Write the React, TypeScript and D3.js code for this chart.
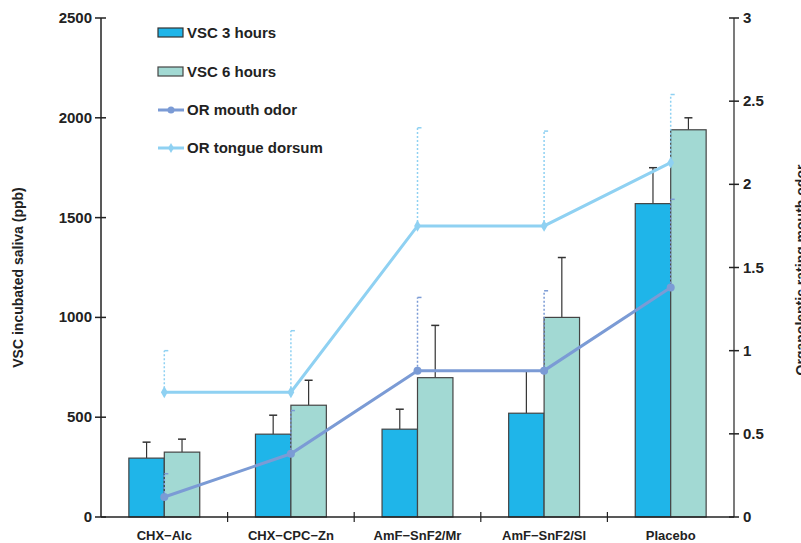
import React from "react";
import * as d3 from "d3";

const categories = ["CHX−Alc", "CHX−CPC−Zn", "AmF−SnF2/Mr", "AmF−SnF2/Sl", "Placebo"];
const vsc3 = [295, 415, 440, 520, 1570];
const vsc3Err = [375, 510, 540, 730, 1750];
const vsc6 = [325, 560, 698, 1000, 1940];
const vsc6Err = [390, 685, 960, 1300, 2000];
const orMouth = [0.12, 0.38, 0.88, 0.88, 1.38];
const orMouthErr = [0.26, 0.64, 1.32, 1.36, 1.91];
const orTongue = [0.75, 0.75, 1.75, 1.75, 2.13];
const orTongueErr = [1.0, 1.12, 2.34, 2.32, 2.54];
const leftTicks = [0, 500, 1000, 1500, 2000, 2500];
const rightTicks = [0, 0.5, 1, 1.5, 2, 2.5, 3];
const rightTickLabels = ["0", "0.5", "1", "1.5", "2", "2.5", "3"];

const C3 = "#1fb5e9";
const C6 = "#a2d9d3";
const CM = "#7b9bd5";
const CT = "#8fd1f2";
const FONT = "Liberation Sans, Arial, sans-serif";

export default function App() {
  const W = 801, H = 543;
  const x0 = 101, x1 = 734, yTop = 18, yBot = 517;
  const x = d3.scaleBand<string>().domain(categories).range([x0, x1]).padding(0);
  const yL = d3.scaleLinear().domain([0, 2500]).range([yBot, yTop]);
  const yR = d3.scaleLinear().domain([0, 3]).range([yBot, yTop]);
  const bw = x.bandwidth() * 0.28;
  const cx = (c: string) => (x(c) as number) + x.bandwidth() / 2;
  const lineM = d3.line<number>().x((_, i) => cx(categories[i])).y((d) => yR(d));

  const bars = (vals: number[], errs: number[], color: string, off: number) =>
    categories.map((c, i) => {
      const bx = cx(c) + off;
      const mid = bx + bw / 2;
      return (
        <g key={c + color}>
          <line x1={mid} x2={mid} y1={yL(vals[i])} y2={yL(errs[i])} stroke="#333" strokeWidth={1.2} />
          <line x1={mid - 4} x2={mid + 4} y1={yL(errs[i])} y2={yL(errs[i])} stroke="#333" strokeWidth={1.5} />
          <rect x={bx} y={yL(vals[i])} width={bw} height={yBot - yL(vals[i])} fill={color} stroke="#444" strokeWidth={1.2} />
        </g>
      );
    });

  const dotErr = (vals: number[], errs: number[], color: string) =>
    categories.map((c, i) => (
      <g key={c + color + "e"}>
        <line x1={cx(c)} x2={cx(c)} y1={yR(vals[i])} y2={yR(errs[i])} stroke={color} strokeWidth={1.5} strokeDasharray="2,2" />
        <line x1={cx(c)} x2={cx(c) + 4} y1={yR(errs[i])} y2={yR(errs[i])} stroke={color} strokeWidth={1.5} />
      </g>
    ));

  return (
    <svg width={W} height={H} style={{ position: "absolute", left: 0, top: 0 }} fontFamily={FONT} fontWeight="bold">
      <rect width={W} height={H} fill="#fff" />
      {bars(vsc3, vsc3Err, C3, -bw)}
      {bars(vsc6, vsc6Err, C6, 0)}
      {dotErr(orTongue, orTongueErr, CT)}
      {dotErr(orMouth, orMouthErr, CM)}
      <path d={lineM(orTongue) || ""} fill="none" stroke={CT} strokeWidth={3} />
      <path d={lineM(orMouth) || ""} fill="none" stroke={CM} strokeWidth={3} />
      {orTongue.map((v, i) => (
        <path key={"t" + i} d={d3.symbol(d3.symbolDiamond, 40)() || ""} transform={`translate(${cx(categories[i])},${yR(v)})`} fill={CT} />
      ))}
      {orMouth.map((v, i) => (
        <circle key={"m" + i} cx={cx(categories[i])} cy={yR(v)} r={4} fill={CM} />
      ))}
      {/* axes */}
      <line x1={x0} x2={x1} y1={yBot} y2={yBot} stroke="#222" strokeWidth={1.5} />
      <line x1={x0} x2={x0} y1={yTop} y2={yBot} stroke="#222" strokeWidth={1.5} />
      <line x1={x1} x2={x1} y1={yTop} y2={yBot} stroke="#222" strokeWidth={1.2} />
      {leftTicks.map((t) => (
        <g key={"l" + t}>
          <line x1={x0 - 6} x2={x0 + 5} y1={yL(t)} y2={yL(t)} stroke="#222" strokeWidth={1.5} />
          <text x={x0 - 9} y={yL(t) + 5} textAnchor="end" fontSize={15} fill="#222">{t}</text>
        </g>
      ))}
      {rightTicks.map((t, i) => (
        <g key={"r" + t}>
          <line x1={x1 - 5} x2={x1 + 5} y1={yR(t)} y2={yR(t)} stroke="#222" strokeWidth={1.5} />
          <text x={x1 + 9} y={yR(t) + 5} textAnchor="start" fontSize={15} fill="#222">{rightTickLabels[i]}</text>
        </g>
      ))}
      {categories.map((c, i) => (
        <g key={"x" + c}>
          {i > 0 && <line x1={x(c) as number} x2={x(c) as number} y1={yBot - 5} y2={yBot + 5} stroke="#222" strokeWidth={1.2} />}
          <text x={cx(c)} y={yBot + 23} textAnchor="middle" fontSize={13} fill="#222">{c}</text>
        </g>
      ))}
      <text transform={`translate(23,${(yTop + yBot) / 2 + 10}) rotate(-90)`} textAnchor="middle" fontSize={14} fill="#222">VSC incubated saliva (ppb)</text>
      <text transform={`translate(806,${270}) rotate(-90)`} textAnchor="middle" fontSize={14} fill="#222">Organoleptic rating mouth odor</text>
      {/* legend */}
      <rect x={158} y={28} width={25} height={9} fill={C3} stroke="#333" strokeWidth={1.2} />
      <text x={187} y={38} fontSize={15} fill="#222">VSC 3 hours</text>
      <rect x={158} y={67} width={25} height={9} fill={C6} stroke="#444" strokeWidth={1.2} />
      <text x={187} y={77} fontSize={15} fill="#222">VSC 6 hours</text>
      <line x1={158} x2={184} y1={110} y2={110} stroke={CM} strokeWidth={3} />
      <circle cx={171} cy={110} r={3.5} fill={CM} />
      <text x={187} y={115} fontSize={15} fill="#222">OR  mouth odor</text>
      <line x1={158} x2={184} y1={148} y2={148} stroke={CT} strokeWidth={3} />
      <path d={d3.symbol(d3.symbolDiamond, 30)() || ""} transform="translate(171,148)" fill={CT} />
      <text x={187} y={153} fontSize={15} fill="#222">OR tongue dorsum</text>
    </svg>
  );
}
